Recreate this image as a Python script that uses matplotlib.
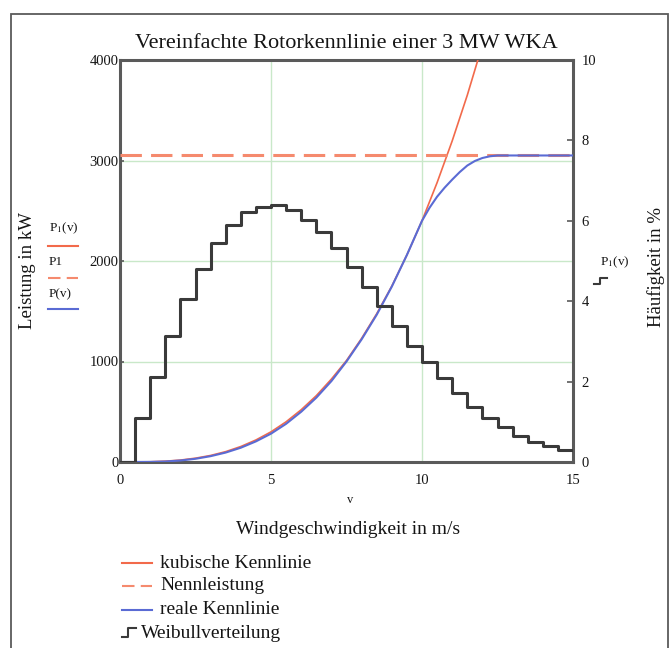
import numpy as np
import matplotlib
matplotlib.use('Agg')
import matplotlib.pyplot as plt
from matplotlib.lines import Line2D
from matplotlib.patches import Rectangle

plt.rcParams['font.family'] = ['Liberation Serif', 'DejaVu Serif']
plt.rcParams['mathtext.fontset'] = 'stix'

# Windgeschwindigkeit (m/s) und kubische Kennlinie P1(v) in kW
v_kub = [0, 0.5, 1, 1.5, 2, 2.5, 3, 3.5, 4, 4.5, 5, 5.5, 6, 6.5, 7, 7.5, 8, 8.5,
         9, 9.5, 10, 10.5, 11, 11.5, 12]
p_kub = [0, 0, 2, 8, 19, 38, 65, 103, 154, 219, 300, 400, 520, 660, 825, 1010,
         1230, 1475, 1750, 2060, 2400, 2780, 3195, 3650, 4150]

# reale Kennlinie P(v) in kW
v_real = [0, 0.5, 1, 1.5, 2, 2.5, 3, 3.5, 4, 4.5, 5, 5.5, 6, 6.5, 7, 7.5, 8, 8.5,
          9, 9.5, 10, 10.25, 10.5, 10.75, 11, 11.25, 11.5, 11.75, 12, 12.25, 12.5,
          13, 14, 15]
p_real = [0, 0, 1, 5, 15, 32, 58, 94, 142, 205, 282, 380, 500, 640, 805, 1000,
          1220, 1465, 1745, 2060, 2400, 2530, 2640, 2730, 2810, 2885, 2950, 2995,
          3025, 3042, 3050, 3050, 3050, 3050]

# Nennleistung in kW
nennleistung = 3050
v_nenn = [0, 15]

# Weibullverteilung, Haeufigkeit in % je 0.5 m/s Klasse
v_klassen = [0, 0.5, 1, 1.5, 2, 2.5, 3, 3.5, 4, 4.5, 5, 5.5, 6, 6.5, 7, 7.5, 8,
             8.5, 9, 9.5, 10, 10.5, 11, 11.5, 12, 12.5, 13, 13.5, 14, 14.5, 15]
haeufigkeit = [0, 1.09, 2.11, 3.13, 4.05, 4.80, 5.45, 5.90, 6.22, 6.34, 6.39,
               6.27, 6.02, 5.72, 5.32, 4.85, 4.35, 3.88, 3.38, 2.89, 2.49, 2.09,
               1.72, 1.37, 1.09, 0.87, 0.65, 0.50, 0.40, 0.30]

col_kub = '#f26a4b'
col_nenn = '#f58a6e'
col_real = '#5a6bd4'
col_weib = '#3a3a3a'
col_axis = '#5a5a5a'
col_text = '#151515'

W, H = 671, 648
fx = lambda x: x / W
fy = lambda y: 1 - y / H

fig = plt.figure(figsize=(W / 100, H / 100), dpi=100)
fig.patch.set_facecolor('white')

# Rahmen um die ganze Grafik
fig.add_artist(Rectangle((fx(11), fy(660)), fx(668) - fx(11), fy(14) - fy(660),
                         transform=fig.transFigure, fill=False,
                         edgecolor=col_axis, linewidth=1.3))

ax = fig.add_axes([fx(120), fy(462), fx(573) - fx(120), fy(60) - fy(462)])
ax.set_xlim(0, 15)
ax.set_ylim(0, 4000)
ax.set_xticks([0, 5, 10, 15])
ax.set_yticks([0, 1000, 2000, 3000, 4000])
ax.grid(True, color='#c9e8c9', linewidth=1.0)
ax.set_axisbelow(True)

ax.plot(v_kub, p_kub, color=col_kub, linewidth=1.2, zorder=3)
ax.plot(v_nenn, [nennleistung, nennleistung], color=col_nenn, linewidth=2.2,
        dashes=(7, 3), zorder=3)
ax.plot(v_real, p_real, color=col_real, linewidth=1.5, zorder=4)

for s in ax.spines.values():
    s.set_color(col_axis)
    s.set_linewidth(2.2)
ax.tick_params(axis='y', direction='in', length=3, width=1.2, color=col_axis,
               labelsize=10.5, labelcolor=col_text, pad=1)
ax.tick_params(axis='x', length=0, labelsize=10.5, labelcolor=col_text, pad=9)

ax2 = ax.twinx()
ax2.set_ylim(0, 10)
ax2.set_yticks([0, 2, 4, 6, 8, 10])
ax2.step(v_klassen, haeufigkeit + [haeufigkeit[-1]], where='post',
         color=col_weib, linewidth=2.2, zorder=5)
for s in ax2.spines.values():
    s.set_visible(False)
ax2.tick_params(axis='y', direction='in', length=4, width=1.2, color=col_axis,
                labelsize=10.5, labelcolor=col_text, pad=6)

fig.text(fx(346), fy(43), 'Vereinfachte Rotorkennlinie einer 3 MW WKA',
         ha='center', va='center', fontsize=16, color=col_text)
fig.text(fx(28), fy(270), 'Leistung in kW', rotation=90, ha='center',
         va='center', fontsize=13.5, color=col_text)
fig.text(fx(656), fy(267), 'Häufigkeit in %', rotation=90, ha='center',
         va='center', fontsize=13.5, color=col_text)
fig.text(fx(350), fy(500), 'v', ha='center', va='center', fontsize=9,
         color=col_text)
fig.text(fx(348), fy(530), 'Windgeschwindigkeit in m/s', ha='center',
         va='center', fontsize=14, color=col_text)

# Kurzlegende links neben der Achse
fig.text(fx(49), fy(228), 'P$_1$(v)', ha='left', va='center', fontsize=9.5,
         color=col_text)
fig.add_artist(Line2D([fx(48), fx(78)], [fy(246), fy(246)], color=col_kub,
                      linewidth=1.5, transform=fig.transFigure))
fig.text(fx(49), fy(262), 'P1', ha='left', va='center', fontsize=9.5,
         color=col_text)
fig.add_artist(Line2D([fx(48), fx(78)], [fy(278), fy(278)], color=col_nenn,
                      linewidth=1.5, dashes=(6, 3), transform=fig.transFigure))
fig.text(fx(49), fy(294), 'P(v)', ha='left', va='center', fontsize=9.5,
         color=col_text)
fig.add_artist(Line2D([fx(48), fx(78)], [fy(309), fy(309)], color=col_real,
                      linewidth=1.5, transform=fig.transFigure))

# Kurzlegende rechts
fig.text(fx(600), fy(262), 'P$_1$(v)', ha='left', va='center', fontsize=9.5,
         color=col_text)
fig.add_artist(Line2D([fx(594), fx(600), fx(600), fx(607)],
                      [fy(284), fy(284), fy(278), fy(278)], color=col_weib,
                      linewidth=1.5, transform=fig.transFigure))

# Legende unten
leg_y = [563, 586, 610, 633]
fig.add_artist(Line2D([fx(122), fx(152)], [fy(leg_y[0])] * 2, color=col_kub,
                      linewidth=1.5, transform=fig.transFigure))
fig.add_artist(Line2D([fx(122), fx(152)], [fy(leg_y[1])] * 2, color=col_nenn,
                      linewidth=1.5, dashes=(6, 3), transform=fig.transFigure))
fig.add_artist(Line2D([fx(122), fx(152)], [fy(leg_y[2])] * 2, color=col_real,
                      linewidth=1.5, transform=fig.transFigure))
fig.add_artist(Line2D([fx(122), fx(128), fx(128), fx(136)],
                      [fy(637), fy(637), fy(628), fy(628)], color=col_weib,
                      linewidth=1.5, transform=fig.transFigure))
fig.text(fx(160), fy(leg_y[0]), 'kubische Kennlinie', ha='left', va='center',
         fontsize=14, color=col_text)
fig.text(fx(160), fy(leg_y[1]), 'Nennleistung', ha='left', va='center',
         fontsize=14, color=col_text)
fig.text(fx(160), fy(leg_y[2]), 'reale Kennlinie', ha='left', va='center',
         fontsize=14, color=col_text)
fig.text(fx(141), fy(leg_y[3]), 'Weibullverteilung', ha='left', va='center',
         fontsize=14, color=col_text)

fig.savefig('out.png', dpi=100)
